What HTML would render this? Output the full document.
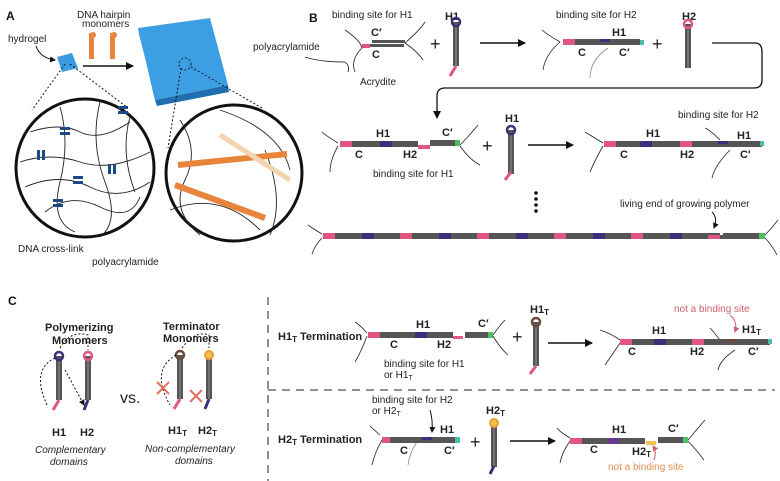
<!DOCTYPE html>
<html><head><style>
body{margin:0;background:#fff;}
svg{display:block;font-family:"Liberation Sans",Arial,sans-serif;}
.t{font-size:10px;fill:#222;}
.b{font-size:11px;font-weight:bold;fill:#222;}
.L{font-size:12px;font-weight:bold;fill:#111;}
.r{font-size:10px;fill:#d0606a;}
.o{font-size:10px;fill:#e09050;}
</style></head><body>
<svg width="780" height="481" viewBox="0 0 780 481">
<defs>
<marker id="ah" markerWidth="8" markerHeight="8" refX="7" refY="4" orient="auto" markerUnits="userSpaceOnUse"><path d="M0,0 L8,4 L0,8 z" fill="#111"/></marker>
<marker id="as" markerWidth="6" markerHeight="6" refX="5" refY="3" orient="auto" markerUnits="userSpaceOnUse"><path d="M0,0 L6,3 L0,6 z" fill="#111"/></marker>
<marker id="ar" markerWidth="6" markerHeight="6" refX="5" refY="3" orient="auto" markerUnits="userSpaceOnUse"><path d="M0,0 L6,3 L0,6 z" fill="#d0606a"/></marker>
<g id="hp"><rect x="-3" y="0" width="6" height="44" fill="#555"/><line x1="0" y1="2" x2="0" y2="44" stroke="#aaa" stroke-width="0.7"/></g>
</defs>

<!-- A -->
<text x="6" y="20" class="L">A</text>
<text x="8" y="42" class="t">hydrogel</text>
<path d="M36,46 Q40,58 55,60" fill="none" stroke="#111" marker-end="url(#as)"/>
<text x="77" y="18" class="t">DNA hairpin</text>
<text x="82" y="27" class="t">monomers</text>
<rect x="89" y="33" width="5" height="26" fill="#e8843c"/><circle cx="93" cy="35" r="3" fill="#e8843c"/>
<rect x="110" y="33" width="5" height="26" fill="#e8843c"/><circle cx="114" cy="35" r="3" fill="#e8843c"/>
<polygon points="57,57 72,53 78,68 62,72" fill="#3a9be0"/>
<line x1="83" y1="66" x2="133" y2="66" stroke="#111" stroke-width="1.5" marker-end="url(#ah)"/>
<polygon points="138,28 210,18 228,85 155,100" fill="#3d9fe3"/>
<polygon points="155,100 228,85 229,92 157,106" fill="#1f6fb0"/>
<polygon points="138,28 155,100 157,106 139,34" fill="#2b7dc0"/>
<circle cx="185" cy="64" r="6" fill="none" stroke="#123" stroke-dasharray="2,2"/>
<line x1="65" y1="64" x2="32" y2="110" stroke="#111" stroke-dasharray="2,2"/>
<line x1="70" y1="64" x2="128" y2="108" stroke="#111" stroke-dasharray="2,2"/>
<line x1="181" y1="68" x2="168" y2="148" stroke="#111" stroke-dasharray="2,2"/>
<line x1="191" y1="67" x2="262" y2="108" stroke="#111" stroke-dasharray="2,2"/>
<circle cx="85" cy="168" r="69" fill="#fff" stroke="#111" stroke-width="3"/>
<circle cx="234" cy="173" r="68" fill="#fff" stroke="#111" stroke-width="3"/>
<g fill="none" stroke="#222" stroke-width="0.9" transform="translate(0,-18)">
<path d="M30,150 Q60,140 80,150 T130,140"/><path d="M20,180 Q50,170 80,180 T150,170"/>
<path d="M25,205 Q60,190 90,205 T150,200"/><path d="M45,230 Q70,210 100,225 T140,215"/>
<path d="M60,125 Q70,160 60,200 T75,250"/><path d="M100,120 Q90,160 105,200 T100,255"/>
<path d="M130,135 Q120,170 135,210"/>
</g>
<g fill="none" stroke="#222" stroke-width="0.9">
<path d="M180,120 Q200,150 185,180 T200,235"/><path d="M220,110 Q280,130 290,170"/>
<path d="M170,210 Q220,190 260,230"/><path d="M265,150 Q285,200 270,235"/>
</g>
<g fill="#1d4a86" transform="translate(0,-18)"><rect x="60" y="145" width="10" height="3"/><rect x="60" y="150" width="10" height="3"/>
<rect x="118" y="124" width="10" height="3"/><rect x="118" y="129" width="10" height="3"/>
<rect x="37" y="168" width="3" height="10"/><rect x="42" y="168" width="3" height="10"/>
<rect x="108" y="182" width="3" height="10"/><rect x="113" y="182" width="3" height="10"/>
<rect x="73" y="194" width="10" height="3"/><rect x="73" y="199" width="10" height="3"/>
<rect x="53" y="217" width="10" height="3"/><rect x="53" y="222" width="10" height="3"/></g>
<line x1="178" y1="165" x2="287" y2="154" stroke="#e8843c" stroke-width="6"/>
<line x1="175" y1="185" x2="265" y2="218" stroke="#e8843c" stroke-width="6"/>
<line x1="220" y1="135" x2="290" y2="180" stroke="#f2d4b0" stroke-width="5"/>
<text x="18" y="252" class="t">DNA cross-link</text>
<text x="92" y="265" class="t">polyacrylamide</text>

<!-- B -->
<text x="309" y="22" class="L">B</text>
<text x="332" y="18" class="t">binding site for H1</text>
<text x="445" y="20" class="b">H1</text>
<text x="556" y="18" class="t">binding site for H2</text>
<text x="682" y="20" class="b">H2</text>
<text x="253" y="50" class="t">polyacrylamide</text>
<text x="360" y="85" class="t">Acrydite</text>
<text x="371" y="36" class="b">C′</text><text x="372" y="58" class="b">C</text>
<g fill="none" stroke="#222" stroke-width="0.8">
<path d="M345,30 Q360,40 362,48"/><path d="M362,48 Q350,60 355,72"/>
<path d="M405,43 Q420,30 425,22"/><path d="M405,43 Q418,52 423,60"/>
<path d="M305,57 Q320,62 345,62 Q350,66 348,72"/>
</g>
<rect x="372" y="40" width="33" height="3" fill="#555"/><rect x="368" y="44" width="36" height="3" fill="#555"/>
<rect x="362" y="44" width="8" height="4" fill="#e0567e"/>
<text x="430" y="50" font-size="18" fill="#222">+</text>
<use href="#hp" x="456" y="22"/><circle cx="456" cy="22" r="4" fill="none" stroke="#3a2f7a" stroke-width="2.5"/>
<path d="M456,66 L450,76" stroke="#e0567e" stroke-width="3"/>
<line x1="480" y1="43" x2="525" y2="43" stroke="#111" stroke-width="1.5" marker-end="url(#ah)"/>
<rect x="563" y="39" width="77" height="6" fill="#555"/><rect x="563" y="39" width="12" height="6" fill="#e0567e"/>
<rect x="600" y="39" width="10" height="3" fill="#3a2f7a"/><rect x="640" y="40" width="4" height="5" fill="#4cc0b0"/>
<text x="612" y="36" class="b">H1</text><text x="578" y="56" class="b">C</text><text x="619" y="56" class="b">C′</text>
<path d="M560,42 Q545,55 543,70 M560,42 Q548,35 542,30" fill="none" stroke="#222" stroke-width="0.8"/>
<path d="M608,48 Q590,60 590,78" fill="none" stroke="#888" stroke-width="0.8"/>
<text x="652" y="50" font-size="18" fill="#222">+</text>
<use href="#hp" x="688" y="24"/><circle cx="688" cy="24" r="4" fill="none" stroke="#e0567e" stroke-width="2.5"/>
<path d="M712,43 L755,43 Q762,43 762,52 L762,80 Q762,88 754,88 L445,88 Q437,88 437,96 L437,118" fill="none" stroke="#111" stroke-width="1.3" marker-end="url(#ah)"/>
<!-- row 2 -->
<path d="M338,143 Q325,135 322,132 M338,146 Q330,160 330,172 M460,145 Q470,135 478,125 M460,146 Q470,160 480,165" fill="none" stroke="#222" stroke-width="0.8"/>
<rect x="340" y="141" width="78" height="6" fill="#555"/><rect x="340" y="141" width="12" height="6" fill="#e0567e"/><rect x="380" y="141" width="12" height="6" fill="#3a2f7a"/>
<rect x="418" y="145" width="12" height="4" fill="#e0567e"/><rect x="430" y="140" width="30" height="6" fill="#555"/><rect x="455" y="140" width="5" height="6" fill="#4cc060"/>
<text x="376" y="137" class="b">H1</text><text x="355" y="158" class="b">C</text><text x="403" y="158" class="b">H2</text><text x="442" y="136" class="b">C′</text>
<text x="373" y="177" class="t">binding site for H1</text>
<text x="482" y="152" font-size="18" fill="#222">+</text>
<text x="505" y="122" class="b">H1</text>
<use href="#hp" x="511" y="130"/><circle cx="511" cy="130" r="4" fill="none" stroke="#3a2f7a" stroke-width="2.5"/>
<path d="M511,172 L505,180" stroke="#e0567e" stroke-width="3"/>
<line x1="528" y1="145" x2="573" y2="145" stroke="#111" stroke-width="1.5" marker-end="url(#ah)"/>
<path d="M603,143 Q590,135 585,132 M603,146 Q595,160 590,172 M720,140 Q710,130 705,128 M730,150 Q715,165 712,178" fill="none" stroke="#222" stroke-width="0.8"/>
<rect x="604" y="141" width="158" height="6" fill="#555"/><rect x="604" y="141" width="12" height="6" fill="#e0567e"/><rect x="640" y="141" width="12" height="6" fill="#3a2f7a"/><rect x="680" y="141" width="12" height="6" fill="#e0567e"/><rect x="718" y="141" width="10" height="3" fill="#3a2f7a"/><rect x="760" y="141" width="4" height="5" fill="#4cc0b0"/>
<text x="646" y="137" class="b">H1</text><text x="620" y="158" class="b">C</text><text x="680" y="158" class="b">H2</text><text x="737" y="139" class="b">H1</text><text x="740" y="158" class="b">C′</text>
<text x="678" y="118" class="t">binding site for H2</text>
<g fill="#111"><circle cx="536" cy="193" r="1.8"/><circle cx="536" cy="199" r="1.8"/><circle cx="536" cy="205" r="1.8"/><circle cx="536" cy="211" r="1.8"/></g>
<text x="620" y="207" class="t">living end of growing polymer</text>
<path d="M712,212 Q718,218 714,228" fill="none" stroke="#111" marker-end="url(#as)"/>
<!-- row 3 -->
<path d="M322,234 Q312,228 308,225 M322,238 Q315,245 312,254 M765,235 Q772,228 778,220 M765,238 Q772,245 777,255" fill="none" stroke="#222" stroke-width="0.8"/>
<rect x="323" y="233" width="442" height="6" fill="#555"/>
<g fill="#e0567e"><rect x="323" y="233" width="12" height="6"/><rect x="400" y="233" width="12" height="6"/><rect x="477" y="233" width="12" height="6"/><rect x="554" y="233" width="12" height="6"/><rect x="631" y="233" width="12" height="6"/><rect x="708" y="235" width="12" height="4"/></g>
<g fill="#3a2f7a"><rect x="362" y="233" width="12" height="6"/><rect x="439" y="233" width="12" height="6"/><rect x="516" y="233" width="12" height="6"/><rect x="593" y="233" width="12" height="6"/><rect x="670" y="233" width="12" height="6"/></g>
<rect x="720" y="231" width="3" height="4" fill="#fff"/><rect x="759" y="233" width="6" height="6" fill="#4cc060"/>

<!-- C -->
<text x="8" y="305" class="L">C</text>
<text x="45" y="331" class="b">Polymerizing</text><text x="52" y="344" class="b">Monomers</text>
<text x="163" y="330" class="b">Terminator</text><text x="163" y="342" class="b">Monomers</text>
<use href="#hp" x="59" y="356"/><circle cx="59" cy="356" r="4" fill="none" stroke="#3a2f7a" stroke-width="2.5"/>
<use href="#hp" x="88" y="356"/><circle cx="88" cy="356" r="4" fill="none" stroke="#e0567e" stroke-width="2.5"/>
<path d="M59,400 L53,410" stroke="#e0567e" stroke-width="3"/><path d="M88,400 L84,410" stroke="#3a2f7a" stroke-width="3"/>
<path d="M55,358 Q30,370 48,407 M60,348 Q70,330 88,335 L88,350 M65,370 L84,405" fill="none" stroke="#111" stroke-dasharray="2,2" marker-end="url(#as)"/>
<text x="52" y="436" class="b">H1</text><text x="80" y="436" class="b">H2</text>
<text x="120" y="403" font-size="16" fill="#222">vs.</text>
<use href="#hp" x="180" y="355"/><circle cx="180" cy="355" r="4" fill="none" stroke="#6a4a3a" stroke-width="2.5"/>
<use href="#hp" x="209" y="355"/><circle cx="209" cy="355" r="4" fill="#f0c050" stroke="#e8a030" stroke-width="2"/>
<path d="M180,399 L174,409" stroke="#e0567e" stroke-width="3"/><path d="M209,399 L205,409" stroke="#3a2f7a" stroke-width="3"/>
<path d="M176,355 Q150,370 170,405 M182,348 Q195,330 209,335 L209,348" fill="none" stroke="#111" stroke-dasharray="2,2"/>
<path d="M157,382 L169,394 M169,382 L157,394 M190,390 L202,402 M202,390 L190,402" stroke="#e07060" stroke-width="2"/>
<text x="168" y="434" class="b">H1<tspan font-size="8" dy="2">T</tspan></text><text x="198" y="434" class="b">H2<tspan font-size="8" dy="2">T</tspan></text>
<text x="35" y="453" font-size="10" font-style="italic" fill="#222">Complementary</text><text x="50" y="465" font-size="10" font-style="italic" fill="#222">domains</text>
<text x="145" y="452" font-size="10" font-style="italic" fill="#222">Non-complementary</text><text x="175" y="464" font-size="10" font-style="italic" fill="#222">domains</text>
<line x1="268" y1="297" x2="268" y2="481" stroke="#222" stroke-dasharray="8,6"/>
<line x1="268" y1="390" x2="775" y2="390" stroke="#222" stroke-dasharray="8,6"/>
<text x="278" y="340" class="b">H1<tspan font-size="8" dy="2">T</tspan><tspan dy="-2"> Termination</tspan></text>
<text x="278" y="443" class="b">H2<tspan font-size="8" dy="2">T</tspan><tspan dy="-2"> Termination</tspan></text>
<!-- C row1 -->
<path d="M367,333 Q360,325 355,322 M367,336 Q362,350 355,362 M493,335 Q500,325 505,320 M493,336 Q500,348 508,355" fill="none" stroke="#222" stroke-width="0.8"/>
<rect x="368" y="332" width="85" height="6" fill="#555"/><rect x="368" y="332" width="12" height="6" fill="#e0567e"/><rect x="415" y="332" width="12" height="6" fill="#3a2f7a"/><rect x="453" y="336" width="10" height="3" fill="#e0567e"/><rect x="465" y="332" width="28" height="6" fill="#555"/><rect x="488" y="332" width="5" height="6" fill="#4cc060"/>
<text x="416" y="328" class="b">H1</text><text x="390" y="348" class="b">C</text><text x="437" y="348" class="b">H2</text><text x="478" y="327" class="b">C′</text>
<text x="384" y="367" class="t">binding site for H1</text><text x="384" y="378" class="t">or H1<tspan font-size="7" dy="2">T</tspan></text>
<text x="512" y="343" font-size="18" fill="#222">+</text>
<text x="530" y="313" class="b">H1<tspan font-size="8" dy="2">T</tspan></text>
<use href="#hp" x="536" y="322"/><circle cx="536" cy="322" r="4" fill="none" stroke="#6a4a3a" stroke-width="2.5"/>
<path d="M536,366 L530,374" stroke="#e0567e" stroke-width="3"/>
<line x1="548" y1="343" x2="592" y2="343" stroke="#111" stroke-width="1.5" marker-end="url(#ah)"/>
<path d="M620,340 Q610,333 600,330 M620,343 Q612,355 605,365 M720,340 Q712,330 710,328 M735,350 Q720,360 718,370" fill="none" stroke="#222" stroke-width="0.8"/>
<rect x="620" y="339" width="150" height="6" fill="#555"/><rect x="620" y="339" width="12" height="6" fill="#e0567e"/><rect x="654" y="339" width="12" height="6" fill="#3a2f7a"/><rect x="692" y="339" width="12" height="6" fill="#e0567e"/><rect x="725" y="339" width="12" height="3" fill="#6a4a3a"/><rect x="768" y="339" width="4" height="5" fill="#4cc0b0"/>
<text x="652" y="334" class="b">H1</text><text x="628" y="355" class="b">C</text><text x="690" y="355" class="b">H2</text><text x="742" y="333" class="b">H1<tspan font-size="8" dy="2">T</tspan></text><text x="748" y="355" class="b">C′</text>
<text x="674" y="312" class="r">not a binding site</text>
<path d="M730,315 Q738,322 735,332" fill="none" stroke="#d0606a" marker-end="url(#ar)"/>
<!-- C row2 -->
<text x="372" y="403" class="t">binding site for H2</text><text x="372" y="414" class="t">or H2<tspan font-size="7" dy="2">T</tspan></text>
<path d="M380,435 Q372,428 370,426 M382,440 Q375,452 372,465" fill="none" stroke="#222" stroke-width="0.8"/>
<path d="M420,438 Q410,450 408,465" fill="none" stroke="#888" stroke-width="0.8"/>
<rect x="382" y="437" width="75" height="6" fill="#555"/><rect x="382" y="437" width="8" height="6" fill="#e0567e"/><rect x="422" y="437" width="10" height="3" fill="#3a2f7a"/><rect x="455" y="437" width="5" height="6" fill="#4cc0b0"/>
<text x="440" y="433" class="b">H1</text><text x="400" y="454" class="b">C</text><text x="444" y="454" class="b">C′</text>
<path d="M430,410 Q433,420 432,432" fill="none" stroke="#111" marker-end="url(#as)"/>
<text x="470" y="448" font-size="18" fill="#222">+</text>
<text x="486" y="414" class="b">H2<tspan font-size="8" dy="2">T</tspan></text>
<use href="#hp" x="494" y="423"/><circle cx="494" cy="423" r="4" fill="#f0c050" stroke="#e8a030" stroke-width="2"/>
<path d="M494,466 L490,474" stroke="#3a2f7a" stroke-width="3"/>
<line x1="510" y1="441" x2="555" y2="441" stroke="#111" stroke-width="1.5" marker-end="url(#ah)"/>
<path d="M570,438 Q560,432 557,428 M570,441 Q562,452 560,463 M688,440 Q698,428 705,420 M688,441 Q698,452 704,460" fill="none" stroke="#222" stroke-width="0.8"/>
<rect x="570" y="438" width="75" height="6" fill="#555"/><rect x="570" y="438" width="12" height="6" fill="#e0567e"/><rect x="608" y="438" width="12" height="6" fill="#6a3a8a"/><rect x="646" y="441" width="10" height="4" fill="#f0c050"/><rect x="658" y="437" width="30" height="6" fill="#555"/><rect x="683" y="437" width="5" height="6" fill="#4cc060"/>
<text x="612" y="433" class="b">H1</text><text x="590" y="453" class="b">C</text><text x="632" y="455" class="b">H2<tspan font-size="8" dy="2">T</tspan></text><text x="668" y="432" class="b">C′</text>
<text x="608" y="470" class="o">not a binding site</text>
<path d="M654,460 Q657,452 653,446" fill="none" stroke="#d0606a" marker-end="url(#ar)"/>
</svg>
</body></html>
